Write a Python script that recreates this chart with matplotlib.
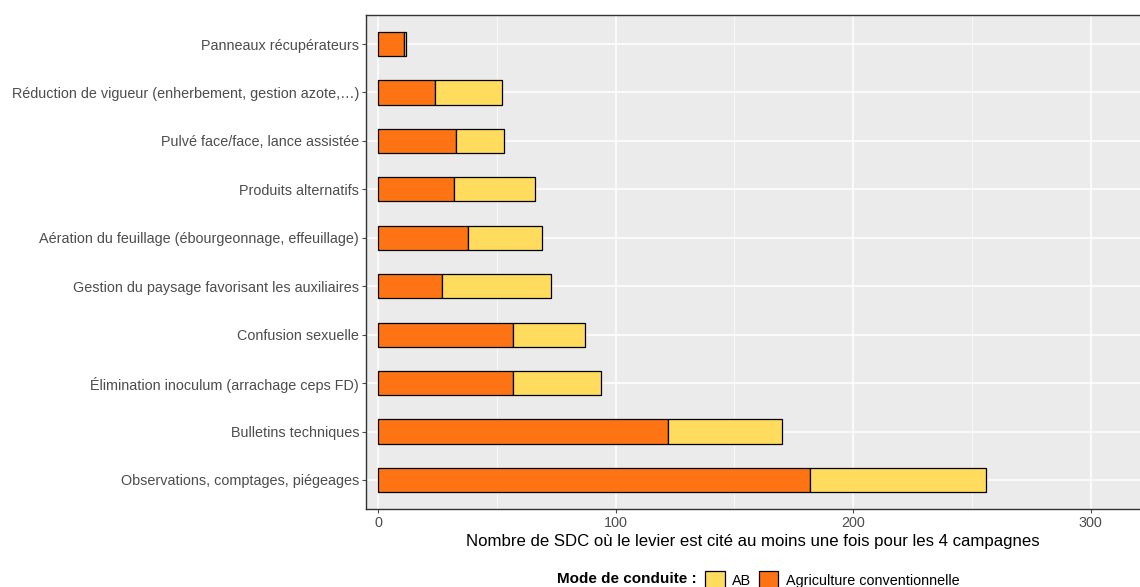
import matplotlib
matplotlib.use("Agg")
import matplotlib.pyplot as plt
from matplotlib.patches import Patch
import numpy as np

plt.rcParams['font.family'] = ['Liberation Sans', 'DejaVu Sans']

categories = [
    "Observations, comptages, piégeages",
    "Bulletins techniques",
    "Élimination inoculum (arrachage ceps FD)",
    "Confusion sexuelle",
    "Gestion du paysage favorisant les auxiliaires",
    "Aération du feuillage (ébourgeonnage, effeuillage)",
    "Produits alternatifs",
    "Pulvé face/face, lance assistée",
    "Réduction de vigueur (enherbement, gestion azote,…)",
    "Panneaux récupérateurs",
]
conventionnelle = [182, 122, 57, 57, 27, 38, 32, 33, 24, 11]
ab = [74, 48, 37, 30, 46, 31, 34, 20, 28, 1]
x_ticks = [0, 100, 200, 300]
x_label = "Nombre de SDC où le levier est cité au moins une fois pour les 4 campagnes"
legend_title = "Mode de conduite :"
legend_labels = ["AB", "Agriculture conventionnelle"]

col_conv = "#FE7414"
col_ab = "#FFDB5E"
W, H = 1140, 587

fig = plt.figure(figsize=(W / 100, H / 100), dpi=100)
ax = fig.add_axes([366 / W, 1 - 509 / H, 1 - 366 / W, (509 - 15) / H])
ax.set_facecolor("#EBEBEB")

y = np.arange(len(categories))
ax.barh(y, conventionnelle, height=0.5, color=col_conv, edgecolor="black",
        linewidth=0.9, zorder=3)
ax.barh(y, ab, left=conventionnelle, height=0.5, color=col_ab, edgecolor="black",
        linewidth=0.9, zorder=3)

ax.set_xlim(-5.05, 320.8)
ax.set_ylim(-0.6, len(categories) - 0.4)
ax.set_yticks(y)
ax.set_yticklabels(categories)
ax.set_xticks(x_ticks)
ax.set_xticks([50, 150, 250], minor=True)
ax.grid(True, which="major", color="white", linewidth=1.1, zorder=1)
ax.grid(True, which="minor", axis="x", color="white", linewidth=0.5, zorder=1)
ax.set_axisbelow(True)

ax.tick_params(axis="both", which="major", colors="#4D4D4D", labelsize=10.35,
               length=3, width=0.8, labelcolor="#4D4D4D")
ax.tick_params(axis="y", pad=2)
ax.tick_params(axis="x", pad=2)
ax.tick_params(which="minor", length=0)

for s in ["left", "top", "bottom"]:
    ax.spines[s].set_color("#333333")
    ax.spines[s].set_linewidth(1.0)
ax.spines["right"].set_visible(False)

ax.set_xlabel(x_label, fontsize=12.05, color="black", labelpad=3)

fig.text(697 / W, 1 - 579 / H, legend_title, fontsize=11, fontweight="bold",
         ha="right", va="center")
handles = [Patch(facecolor=col_ab, edgecolor="black", linewidth=0.9),
           Patch(facecolor=col_conv, edgecolor="black", linewidth=0.9)]
fig.legend(handles, legend_labels, ncol=2, loc="center left",
           bbox_to_anchor=(705 / W, 1 - 580 / H), frameon=False, fontsize=10.4,
           handlelength=1.38, handleheight=1.45, handletextpad=0.5,
           columnspacing=0.5, borderaxespad=0, borderpad=0)

fig.savefig("out.png", dpi=100)
